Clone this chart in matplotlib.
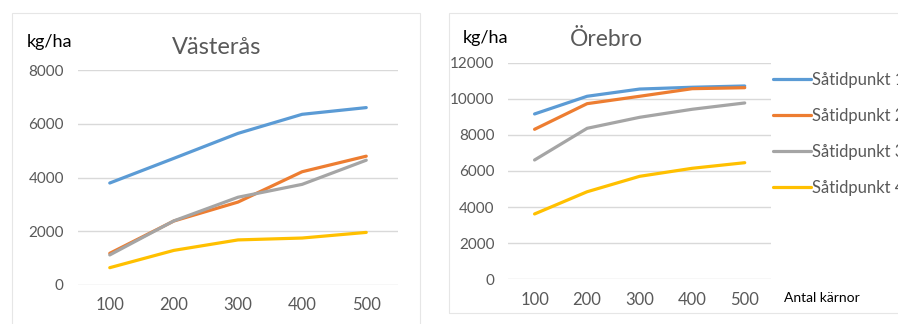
import matplotlib
matplotlib.use("Agg")
import matplotlib.pyplot as plt
from matplotlib.patches import Rectangle

plt.rcParams['font.family'] = ['Lato', 'DejaVu Sans']

# data
karnor = ['100', '200', '300', '400', '500']
serie_namn = ['Såtidpunkt 1', 'Såtidpunkt 2', 'Såtidpunkt 3', 'Såtidpunkt 4']

vasteras_1 = [3800, 4720, 5650, 6360, 6610]
vasteras_2 = [1180, 2385, 3090, 4220, 4800]
vasteras_3 = [1120, 2390, 3270, 3750, 4650]
vasteras_4 = [645, 1290, 1680, 1750, 1960]

orebro_1 = [9160, 10140, 10540, 10640, 10710]
orebro_2 = [8310, 9730, 10140, 10560, 10615]
orebro_3 = [6610, 8365, 8975, 9420, 9770]
orebro_4 = [3620, 4850, 5705, 6150, 6460]

colors = ['#5B9BD5', '#ED7D31', '#A5A5A5', '#FFC000']
grey_txt = '#595959'

fig = plt.figure(figsize=(8.98, 3.24), dpi=100)

# light frames round each chart (like the excel chart areas)
fig.patches.append(Rectangle((12/898, -0.1), (420-12)/898, 1.1 - 13/324,
                             transform=fig.transFigure, fill=False,
                             edgecolor='#E6E6E6', linewidth=0.8))
fig.patches.append(Rectangle((449/898, 1 - 313/324), 0.6, (313-13)/324,
                             transform=fig.transFigure, fill=False,
                             edgecolor='#E6E6E6', linewidth=0.8))

ax1 = fig.add_axes([77.7/898, 1 - 285/324, 320.6/898, 214.7/324])
ax2 = fig.add_axes([508.3/898, 1 - 279.3/324, 262.7/898, 216.6/324])

x = range(len(karnor))


def style(ax, ymax):
    ax.set_xlim(-0.5, 4.5)
    ax.set_ylim(0, ymax)
    ax.set_yticks(range(0, ymax + 1, 2000))
    ax.set_xticks(list(x))
    ax.set_xticklabels(karnor)
    ax.grid(axis='y', color='#D9D9D9', linewidth=1)
    ax.set_axisbelow(True)
    for s in ax.spines.values():
        s.set_visible(False)
    ax.tick_params(length=0, colors=grey_txt)
    ax.tick_params(axis='y', labelsize=11, pad=10)
    ax.tick_params(axis='x', labelsize=12, pad=9)


for vals, c in zip([vasteras_1, vasteras_2, vasteras_3, vasteras_4], colors):
    ax1.plot(x, vals, color=c, linewidth=2.3, solid_capstyle='round')
style(ax1, 8000)

lines = []
for vals, c in zip([orebro_1, orebro_2, orebro_3, orebro_4], colors):
    l, = ax2.plot(x, vals, color=c, linewidth=2.3, solid_capstyle='round')
    lines.append(l)
style(ax2, 12000)

fig.text(27/898, 1 - 42/324, 'kg/ha', fontsize=13, color='black', va='center', ha='left')
fig.text(216.7/898, 1 - 47/324, 'Västerås', fontsize=17, color=grey_txt, va='center', ha='center')
fig.text(463/898, 1 - 38/324, 'kg/ha', fontsize=13, color='black', va='center', ha='left')
fig.text(606.7/898, 1 - 40/324, 'Örebro', fontsize=16.5, color=grey_txt, va='center', ha='center')
fig.text(784/898, 1 - 298/324, 'Antal kärnor', fontsize=10, color='black', va='center', ha='left')

fig.legend(lines, serie_namn, loc='upper left', bbox_to_anchor=(773/898, 1 - 72/324),
           frameon=False, fontsize=12, labelcolor=grey_txt, handlelength=2.25,
           handletextpad=0.12, labelspacing=1.2, borderaxespad=0, borderpad=0)

fig.savefig('out.png', dpi=100, facecolor='white')
